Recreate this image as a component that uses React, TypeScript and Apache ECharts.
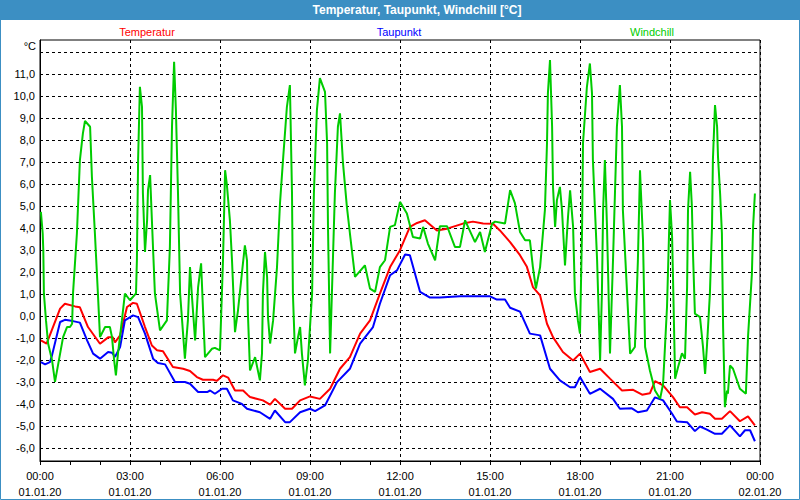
import React, { useEffect, useRef } from "react";
import * as echarts from "echarts";

// hours since 01.01.20 00:00
const tempTimes = [0.03,0.22,0.67,0.83,1.17,1.33,1.6,2.0,2.27,2.43,2.5,2.67,2.9,3.1,3.23,3.5,3.73,3.9,4.1,4.43,4.77,5.0,5.23,5.43,5.77,5.9,6.1,6.27,6.5,6.77,6.93,7.0,7.43,7.67,7.83,8.17,8.4,8.67,9.0,9.33,9.67,10.0,10.33,10.67,11.0,11.33,11.67,12.0,12.33,12.57,12.83,13.23,13.57,14.1,14.43,14.77,15.1,15.33,15.67,16.0,16.23,16.43,16.67,16.9,17.1,17.43,17.77,18.0,18.33,18.67,19.0,19.4,19.77,20.07,20.33,20.5,20.77,21.1,21.33,21.57,21.83,22.07,22.33,22.5,22.73,23.0,23.33,23.6,23.83];
const tempValues = [-1.11,-1.26,0.34,0.56,0.44,0.4,-0.5,-1.26,-0.97,-0.97,-1.2,-0.88,0.41,0.6,0.56,-0.5,-1.34,-1.56,-1.6,-2.32,-2.4,-2.5,-2.78,-2.9,-2.9,-2.95,-2.7,-2.8,-3.39,-3.39,-3.6,-3.69,-3.84,-4.03,-3.77,-4.22,-4.22,-3.84,-3.66,-3.77,-3.31,-2.4,-1.87,-0.8,-0.2,1.02,2.23,3.0,4.06,4.24,4.36,3.9,3.98,4.21,4.3,4.21,4.2,3.9,3.37,2.77,2.24,1.32,0.94,-0.35,-0.96,-1.64,-2.02,-1.71,-2.55,-2.4,-2.85,-3.39,-3.36,-3.58,-3.52,-2.96,-3.16,-3.69,-4.15,-4.15,-4.48,-4.38,-4.45,-4.68,-4.68,-4.33,-4.79,-4.57,-4.98];

const dewTimes = [0.03,0.17,0.33,0.4,0.67,0.83,1.1,1.33,1.57,1.77,2.0,2.27,2.4,2.5,2.67,2.83,3.1,3.27,3.5,3.77,3.93,4.17,4.5,4.83,5.0,5.27,5.57,5.67,5.83,6.07,6.23,6.43,6.73,6.9,7.33,7.67,7.83,8.17,8.33,8.67,9.0,9.17,9.5,9.9,10.33,10.67,11.1,11.33,11.67,11.9,12.17,12.33,12.67,13.0,13.33,14.0,15.0,15.23,15.5,15.67,16.0,16.33,16.67,17.0,17.33,17.67,17.83,18.0,18.33,18.67,19.1,19.33,19.73,19.93,20.23,20.5,20.77,21.07,21.23,21.57,21.83,22.0,22.23,22.5,22.73,23.0,23.33,23.5,23.67,23.83];
const dewValues = [-2.1,-2.2,-2.1,-1.79,-0.27,-0.17,-0.23,-0.3,-1.11,-1.71,-1.94,-1.64,-1.67,-1.86,-1.41,-0.2,0.03,-0.05,-0.8,-1.94,-2.14,-2.2,-3.0,-3.0,-3.08,-3.46,-3.46,-3.39,-3.54,-3.31,-3.31,-3.84,-4.0,-4.22,-4.38,-4.68,-4.3,-4.83,-4.83,-4.38,-4.22,-4.33,-4.07,-3.01,-2.4,-1.26,-0.5,0.56,1.86,2.08,2.8,2.77,1.1,0.84,0.84,0.9,0.9,0.75,0.75,0.38,0.2,-0.8,-0.88,-2.4,-2.93,-3.24,-3.24,-2.78,-3.54,-3.31,-3.77,-4.22,-4.2,-4.38,-4.3,-3.7,-3.84,-4.45,-4.8,-4.83,-5.24,-5.03,-5.17,-5.36,-5.36,-4.98,-5.48,-5.2,-5.2,-5.7];

const windTimes = [0.03,0.09,0.11,0.13,0.2,0.27,0.4,0.5,0.67,0.77,0.9,1.0,1.07,1.1,1.23,1.33,1.43,1.5,1.67,1.73,1.83,1.93,2.0,2.17,2.33,2.4,2.47,2.53,2.6,2.73,2.83,3.0,3.2,3.23,3.27,3.33,3.4,3.43,3.5,3.57,3.6,3.67,3.73,3.83,4.0,4.23,4.33,4.4,4.47,4.53,4.6,4.67,4.83,4.93,5.0,5.07,5.17,5.27,5.37,5.43,5.5,5.73,5.83,6.0,6.1,6.17,6.23,6.33,6.4,6.5,6.6,6.73,6.83,6.9,6.93,7.0,7.17,7.33,7.4,7.43,7.5,7.57,7.6,7.67,7.77,7.9,8.0,8.1,8.23,8.33,8.4,8.43,8.5,8.6,8.67,8.73,8.83,8.93,9.07,9.13,9.23,9.33,9.5,9.57,9.6,9.67,9.73,9.83,9.93,10.0,10.1,10.23,10.33,10.5,10.83,11.0,11.17,11.33,11.5,11.67,11.83,12.0,12.23,12.43,12.67,12.77,12.93,13.17,13.33,13.57,13.83,14.0,14.17,14.5,14.67,14.83,15.07,15.17,15.5,15.67,15.83,16.0,16.17,16.33,16.43,16.53,16.67,16.83,16.9,16.93,17.0,17.07,17.1,17.17,17.23,17.33,17.4,17.5,17.6,17.67,17.77,17.83,17.93,18.0,18.07,18.1,18.23,18.33,18.4,18.43,18.57,18.67,18.73,18.77,18.83,18.9,19.0,19.1,19.23,19.33,19.4,19.43,19.57,19.67,19.83,19.93,20.0,20.1,20.17,20.33,20.5,20.67,20.77,20.9,21.0,21.07,21.1,21.17,21.27,21.4,21.5,21.57,21.6,21.67,21.73,21.77,21.83,22.0,22.1,22.17,22.23,22.33,22.4,22.43,22.5,22.57,22.6,22.67,22.73,22.77,22.83,22.9,22.93,23.0,23.1,23.33,23.53,23.6,23.73,23.77,23.83];
const windValues = [4.74,3.76,3.0,1.02,-0.2,-1.25,-2.0,-3.0,-1.71,-0.96,-0.5,-0.5,-0.35,1.02,3.76,7.1,8.32,8.88,8.62,6.34,3.77,1.03,-0.96,-0.5,-0.5,-0.96,-2.0,-2.7,-1.7,-0.2,1.02,0.72,1.03,2.54,7.1,10.44,9.53,5.6,2.92,4.36,5.73,6.42,4.36,1.03,-0.65,-0.2,3.15,8.62,11.58,9.38,5.6,1.03,-1.94,-0.2,2.23,0.8,-1.11,1.32,2.4,0.41,-1.87,-1.49,-1.45,-1.56,2.54,6.64,5.96,4.36,2.54,-0.73,0.26,1.95,3.22,2.54,0.12,-2.48,-1.87,-2.93,-1.7,1.03,2.92,1.78,-0.05,-1.25,-0.2,2.23,5.14,7.1,9.53,10.52,5.6,1.03,-1.7,-0.96,-0.5,-1.7,-3.16,-2.02,1.03,5.6,9.38,10.83,10.21,7.87,4.06,-1.7,1.03,5.6,8.62,9.23,6.96,4.97,3.77,1.78,2.31,1.25,1.1,2.23,2.54,4.06,4.14,5.2,4.67,3.6,3.53,4.06,3.3,2.54,4.09,4.09,3.15,3.15,4.36,3.37,3.83,2.92,4.21,4.3,4.21,5.73,5.14,3.83,3.45,3.45,2.23,1.25,2.23,4.82,7.87,10.14,11.66,8.62,5.88,4.06,5.28,5.88,4.82,2.31,4.51,5.73,4.06,1.03,-0.2,-0.8,4.06,7.87,10.44,11.5,10.14,7.1,2.54,-2.02,1.03,4.82,7.1,4.06,-1.7,2.54,8.62,10.52,8.62,4.82,1.03,-1.71,-1.41,2.54,6.64,3.45,-1.41,-2.48,-3.39,-3.77,-3.08,0.41,5.28,3.6,1.78,-2.85,-2.32,-1.69,-1.94,1.32,4.82,6.57,4.97,2.69,0.11,-0.05,-1.41,-2.63,-1.41,1.02,4.06,7.1,9.61,8.62,7.25,5.58,3.76,-0.5,-4.15,-3.39,-3.54,-2.25,-2.4,-3.31,-3.54,-0.96,1.93,4.06,5.58];

const yLabelValues = [-6,-5,-4,-3,-2,-1,0,1,2,3,4,5,6,7,8,9,10,11];
const yGridValues = [-6,-5,-4,-3,-2,-1,0,1,2,3,4,5,6,7,8,9,10,11,12];

const seriesNames = ["Temperatur", "Taupunkt", "Windchill"];
const seriesColors = ["#ff0000", "#0000ff", "#00cc00"];
const titleText = "Temperatur, Taupunkt, Windchill [°C]";
const unitText = "°C";

const FONT = "'Liberation Sans', Arial, sans-serif";

function pairs(t: number[], v: number[]) {
  return t.map((x, i) => [x, v[i]]);
}

export default function App() {
  const ref = useRef<HTMLDivElement>(null);
  useEffect(() => {
    document.body.style.margin = "0";
    const chart = echarts.init(ref.current!, null, { renderer: "svg" });
    const dataSets = [pairs(tempTimes, tempValues), pairs(dewTimes, dewValues), pairs(windTimes, windValues)];
    chart.setOption({
      animation: false,
      backgroundColor: "#ffffff",
      textStyle: { fontFamily: FONT },
      grid: { left: 40, right: 40, top: 40, bottom: 39, show: true, borderColor: "#000", borderWidth: 1, backgroundColor: "#fff" },
      xAxis: {
        type: "value",
        min: 0,
        max: 24,
        interval: 3,
        axisLine: { show: true, onZero: false, lineStyle: { color: "#000", width: 1 } },
        axisTick: { show: true, length: 4, lineStyle: { color: "#000" } },
        minorTick: { show: true, splitNumber: 3, length: 4, lineStyle: { color: "#000" } },
        splitLine: { show: true, lineStyle: { color: "#000", type: [3, 3], width: 1 } },
        axisLabel: {
          color: "#000",
          fontSize: 11,
          fontFamily: FONT,
          lineHeight: 16,
          margin: 7,
          formatter: (v: number) => {
            const h = Math.round(v) % 24;
            const hh = (h < 10 ? "0" : "") + h + ":00";
            const d = v >= 24 ? "02.01.20" : "01.01.20";
            return hh + "\n" + d;
          },
        },
      },
      yAxis: {
        type: "value",
        min: -6.6,
        max: 12.57,
        axisLine: { show: true, onZero: false, lineStyle: { color: "#000", width: 1 } },
        axisTick: { show: false, customValues: yGridValues },
        splitLine: { show: true, lineStyle: { color: "#000", type: [3, 3], width: 1 } },
        axisLabel: {
          color: "#000",
          fontSize: 11,
          fontFamily: FONT,
          margin: 5,
          customValues: yLabelValues,
          formatter: (v: number) => v.toFixed(1).replace(".", ","),
        },
      },
      graphic: [
        { type: "rect", shape: { x: 0, y: 0, width: 800, height: 20 }, style: { fill: "#3c8fc3" }, z: 10 },
        { type: "text", x: 417, y: 10, style: { text: titleText, fill: "#fff", font: "bold 12px " + FONT, align: "center", verticalAlign: "middle" }, z: 11 },
        { type: "rect", shape: { x: 0.5, y: 0.5, width: 799, height: 499 }, style: { fill: "none", stroke: "#3c8fc3", lineWidth: 1 }, z: 10 },
        { type: "text", x: 36, y: 46, style: { text: unitText, fill: "#000", font: "11px " + FONT, align: "right", verticalAlign: "middle" }, z: 11 },
        ...seriesNames.map((n, i) => ({
          type: "text",
          x: [147, 399, 652][i],
          y: 32,
          style: { text: n, fill: seriesColors[i], font: "11px " + FONT, align: "center", verticalAlign: "middle" },
          z: 11,
        })),
      ],
      series: seriesNames.map((n, i) => ({
        name: n,
        type: "line",
        data: dataSets[i],
        showSymbol: false,
        symbol: "none",
        lineStyle: { color: seriesColors[i], width: 2 },
        itemStyle: { color: seriesColors[i] },
      })),
    });
    return () => chart.dispose();
  }, []);
  return <div ref={ref} style={{ width: 800, height: 500 }} />;
}
